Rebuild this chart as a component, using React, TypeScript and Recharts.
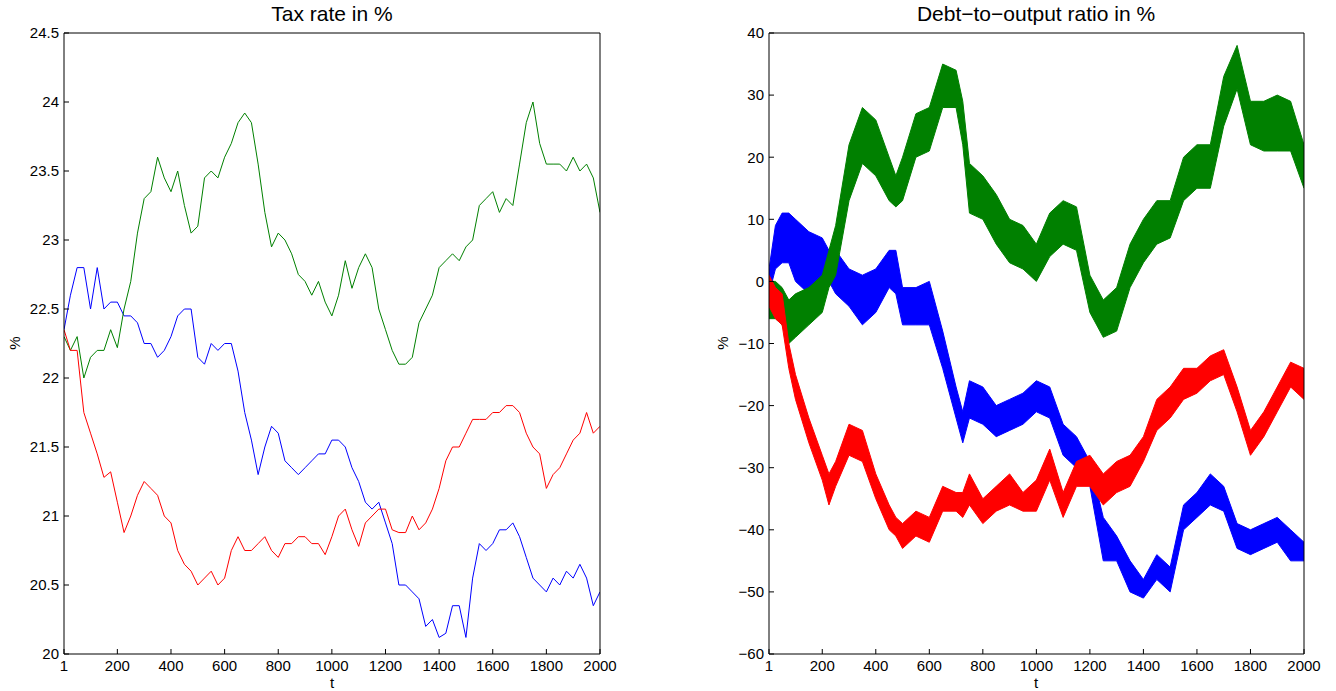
import { ComposedChart, Line, Area, XAxis, YAxis } from "recharts";

// time grid for the tax-rate panel (every 25 periods)
const tTax = [
  1, 25, 50, 75, 100, 125, 150, 175, 200, 225, 250, 275, 300, 325, 350, 375, 400,
  425, 450, 475, 500, 525, 550, 575, 600, 625, 650, 675, 700, 725, 750, 775, 800,
  825, 850, 875, 900, 925, 950, 975, 1000, 1025, 1050, 1075, 1100, 1125, 1150,
  1175, 1200, 1225, 1250, 1275, 1300, 1325, 1350, 1375, 1400, 1425, 1450, 1475,
  1500, 1525, 1550, 1575, 1600, 1625, 1650, 1675, 1700, 1725, 1750, 1775, 1800,
  1825, 1850, 1875, 1900, 1925, 1950, 1975, 2000,
];

const taxBlue = [
  22.35, 22.6, 22.8, 22.8, 22.5, 22.8, 22.5, 22.55, 22.55, 22.45, 22.45, 22.4, 22.25,
  22.25, 22.15, 22.2, 22.3, 22.45, 22.5, 22.5, 22.15, 22.1, 22.25, 22.2, 22.25, 22.25,
  22.05, 21.75, 21.55, 21.3, 21.5, 21.65, 21.6, 21.4, 21.35, 21.3, 21.35, 21.4, 21.45,
  21.45, 21.55, 21.55, 21.5, 21.35, 21.25, 21.1, 21.05, 21.1, 20.95, 20.8, 20.5, 20.5,
  20.45, 20.4, 20.2, 20.25, 20.12, 20.15, 20.35, 20.35, 20.12, 20.55, 20.8, 20.75,
  20.8, 20.9, 20.9, 20.95, 20.85, 20.7, 20.55, 20.5, 20.45, 20.55, 20.5, 20.6, 20.55,
  20.65, 20.55, 20.35, 20.45,
];

const taxGreen = [
  22.3, 22.2, 22.3, 22.0, 22.15, 22.2, 22.2, 22.35, 22.22, 22.5, 22.7, 23.05, 23.3,
  23.35, 23.6, 23.45, 23.35, 23.5, 23.25, 23.05, 23.1, 23.45, 23.5, 23.45, 23.6, 23.7,
  23.85, 23.92, 23.85, 23.55, 23.2, 22.95, 23.05, 23.0, 22.9, 22.75, 22.7, 22.6, 22.7,
  22.55, 22.45, 22.6, 22.85, 22.65, 22.8, 22.9, 22.8, 22.5, 22.35, 22.2, 22.1, 22.1,
  22.15, 22.4, 22.5, 22.6, 22.8, 22.85, 22.9, 22.85, 22.95, 23.0, 23.25, 23.3, 23.35,
  23.2, 23.3, 23.25, 23.55, 23.85, 24.0, 23.7, 23.55, 23.55, 23.55, 23.5, 23.6, 23.5,
  23.55, 23.45, 23.2,
];

const taxRed = [
  22.35, 22.2, 22.2, 21.75, 21.6, 21.45, 21.28, 21.32, 21.1, 20.88, 21.0, 21.15, 21.25,
  21.2, 21.15, 21.0, 20.95, 20.75, 20.65, 20.6, 20.5, 20.55, 20.6, 20.5, 20.55, 20.75,
  20.85, 20.75, 20.75, 20.8, 20.85, 20.75, 20.7, 20.8, 20.8, 20.85, 20.85, 20.8, 20.8,
  20.72, 20.85, 21.0, 21.05, 20.9, 20.78, 20.95, 21.0, 21.05, 21.05, 20.9, 20.88, 20.88,
  21.0, 20.9, 20.95, 21.05, 21.2, 21.4, 21.5, 21.5, 21.6, 21.7, 21.7, 21.7, 21.75,
  21.75, 21.8, 21.8, 21.75, 21.6, 21.5, 21.45, 21.2, 21.3, 21.35, 21.45, 21.55, 21.6,
  21.75, 21.6, 21.65,
];

// time grid for the debt panel, values read as low/high envelope of each noisy band
const tDebt = [
  1, 25, 50, 75, 100, 150, 200, 225, 250, 300, 350, 400, 450, 475, 500, 550, 600, 650,
  700, 725, 750, 800, 850, 900, 950, 1000, 1050, 1100, 1150, 1200, 1250, 1300, 1350,
  1400, 1450, 1500, 1550, 1600, 1650, 1700, 1750, 1800, 1850, 1900, 1950, 2000,
];

const debtBlueLo = [
  -2, 2, 3, 3, 0, -2, 1, 0, -2, -4, -7, -5, -1, -2, -7, -7, -7, -14, -22, -26, -22,
  -23, -25, -24, -23, -21, -22, -28, -30, -33, -45, -45, -50, -51, -48, -50, -40, -38,
  -36, -37, -43, -44, -43, -42, -45, -45,
];
const debtBlueHi = [
  2, 9, 11, 11, 10, 8, 7, 5, 5, 2, 1, 2, 5, 5, -1, -1, 0, -8, -17, -21, -16, -17, -20,
  -19, -18, -16, -17, -23, -25, -29, -38, -41, -45, -48, -44, -46, -36, -34, -31, -33,
  -39, -40, -39, -38, -40, -42,
];

const debtGreenLo = [
  -6, -6, -7, -10, -9, -7, -5, -1, 1, 13, 19, 17, 13, 12, 13, 20, 21, 28, 28, 22, 11,
  10, 6, 3, 2, 0, 4, 6, 5, -5, -9, -8, -1, 3, 6, 7, 13, 15, 15, 25, 31, 22, 21, 21, 21,
  15,
];
const debtGreenHi = [
  0, 0, -1, -3, -2, -1, 1, 5, 9, 22, 28, 26, 20, 17, 20, 27, 28, 35, 34, 29, 19, 17,
  14, 10, 9, 6, 11, 13, 12, 1, -3, -1, 6, 10, 13, 13, 20, 22, 22, 33, 38, 29, 29, 30,
  29, 22,
];

const debtRedLo = [
  -4, -6, -7, -14, -19, -26, -32, -36, -33, -28, -29, -35, -40, -41, -43, -41, -42,
  -37, -37, -38, -36, -39, -37, -36, -37, -37, -32, -38, -33, -33, -36, -34, -33, -29,
  -24, -22, -19, -18, -16, -15, -21, -28, -25, -21, -17, -19,
];
const debtRedHi = [
  1, -1, -2, -10, -15, -22, -28, -31, -29, -23, -24, -31, -36, -38, -39, -37, -38,
  -33, -34, -34, -31, -35, -33, -31, -34, -32, -27, -34, -29, -28, -31, -29, -28, -25,
  -19, -17, -14, -14, -12, -11, -17, -24, -21, -17, -13, -14,
];

const tTicks = [1, 200, 400, 600, 800, 1000, 1200, 1400, 1600, 1800, 2000];
const taxTicks = [20, 20.5, 21, 21.5, 22, 22.5, 23, 23.5, 24, 24.5];
const debtTicks = [-60, -50, -40, -30, -20, -10, 0, 10, 20, 30, 40];

const FONT = '"Liberation Sans", Arial, Helvetica, sans-serif';
const BLUE = "#0000ff";
const GREEN = "#008000";
const RED = "#ff0000";

const taxData = tTax.map((t, i) => ({
  t,
  blue: taxBlue[i],
  green: taxGreen[i],
  red: taxRed[i],
}));

const debtData = tDebt.map((t, i) => ({
  t,
  blue: [debtBlueLo[i], debtBlueHi[i]],
  green: [debtGreenLo[i], debtGreenHi[i]],
  red: [debtRedLo[i], debtRedHi[i]],
}));

// matlab prints negatives with a real minus sign
const fmt = (v: number) => String(v).replace("-", "\u2212");

const tickStyle = { fill: "#000", fontSize: 15, fontFamily: FONT };
const axisLine = { stroke: "#000", strokeWidth: 1 };

// box with inward ticks on all four sides
function axes(domain: [number, number], ticks: number[]) {
  return [
    <XAxis
      key="xb"
      dataKey="t"
      type="number"
      domain={[1, 2000]}
      ticks={tTicks}
      interval={0}
      allowDataOverflow
      height={37}
      tickSize={-5}
      tickMargin={11}
      axisLine={axisLine}
      tickLine={axisLine}
      tick={tickStyle}
    />,
    <XAxis
      key="xt"
      xAxisId="top"
      orientation="top"
      dataKey="t"
      type="number"
      domain={[1, 2000]}
      ticks={tTicks}
      interval={0}
      allowDataOverflow
      height={1}
      tickSize={-5}
      axisLine={axisLine}
      tickLine={axisLine}
      tick={false}
    />,
    <YAxis
      key="yl"
      type="number"
      domain={domain}
      ticks={ticks}
      interval={0}
      allowDataOverflow
      width={40}
      tickSize={-5}
      tickMargin={10}
      axisLine={axisLine}
      tickLine={axisLine}
      tick={tickStyle}
      tickFormatter={fmt}
    />,
    <YAxis
      key="yr"
      yAxisId="right"
      orientation="right"
      type="number"
      domain={domain}
      ticks={ticks}
      interval={0}
      allowDataOverflow
      width={1}
      tickSize={-5}
      axisLine={axisLine}
      tickLine={axisLine}
      tick={false}
    />,
  ];
}

const titleStyle = (cx: number): React.CSSProperties => ({
  position: "absolute",
  left: cx - 250,
  width: 500,
  top: 3,
  textAlign: "center",
  fontFamily: FONT,
  fontSize: 21,
  lineHeight: "22px",
  color: "#000",
});

const xLabelStyle = (cx: number): React.CSSProperties => ({
  position: "absolute",
  left: cx - 20,
  width: 40,
  top: 675,
  textAlign: "center",
  fontFamily: FONT,
  fontSize: 15,
  lineHeight: "16px",
  color: "#000",
});

const yLabelStyle = (cx: number): React.CSSProperties => ({
  position: "absolute",
  left: cx,
  top: 343,
  transform: "translate(-50%, -50%) rotate(-90deg)",
  fontFamily: FONT,
  fontSize: 15,
  color: "#000",
});

export default function App() {
  return (
    <div
      style={{
        position: "absolute",
        left: 0,
        top: 0,
        width: 1336,
        height: 691,
        background: "#fff",
        overflow: "hidden",
      }}
    >
      <div style={{ position: "absolute", left: 0, top: 0 }}>
        <ComposedChart
          width={668}
          height={691}
          data={taxData}
          margin={{ top: 32, right: 67, bottom: 0, left: 24 }}
        >
          {axes([20, 24.5], taxTicks)}
          <Line
            dataKey="blue"
            type="linear"
            stroke={BLUE}
            strokeWidth={1}
            dot={false}
            activeDot={false}
            isAnimationActive={false}
          />
          <Line
            dataKey="green"
            type="linear"
            stroke={GREEN}
            strokeWidth={1}
            dot={false}
            activeDot={false}
            isAnimationActive={false}
          />
          <Line
            dataKey="red"
            type="linear"
            stroke={RED}
            strokeWidth={1}
            dot={false}
            activeDot={false}
            isAnimationActive={false}
          />
        </ComposedChart>
      </div>

      <div style={{ position: "absolute", left: 668, top: 0 }}>
        <ComposedChart
          width={668}
          height={691}
          data={debtData}
          margin={{ top: 32, right: 31, bottom: 0, left: 61 }}
        >
          {axes([-60, 40], debtTicks)}
          <Area
            dataKey="blue"
            type="linear"
            stroke={BLUE}
            strokeWidth={1}
            fill={BLUE}
            fillOpacity={1}
            dot={false}
            activeDot={false}
            isAnimationActive={false}
          />
          <Area
            dataKey="green"
            type="linear"
            stroke={GREEN}
            strokeWidth={1}
            fill={GREEN}
            fillOpacity={1}
            dot={false}
            activeDot={false}
            isAnimationActive={false}
          />
          <Area
            dataKey="red"
            type="linear"
            stroke={RED}
            strokeWidth={1}
            fill={RED}
            fillOpacity={1}
            dot={false}
            activeDot={false}
            isAnimationActive={false}
          />
        </ComposedChart>
      </div>

      <div style={titleStyle(332)}>Tax rate in %</div>
      <div style={titleStyle(1036)}>Debt{"\u2212"}to{"\u2212"}output ratio in %</div>
      <div style={xLabelStyle(332)}>t</div>
      <div style={xLabelStyle(1036)}>t</div>
      <div style={yLabelStyle(14)}>%</div>
      <div style={yLabelStyle(722)}>%</div>
    </div>
  );
}
